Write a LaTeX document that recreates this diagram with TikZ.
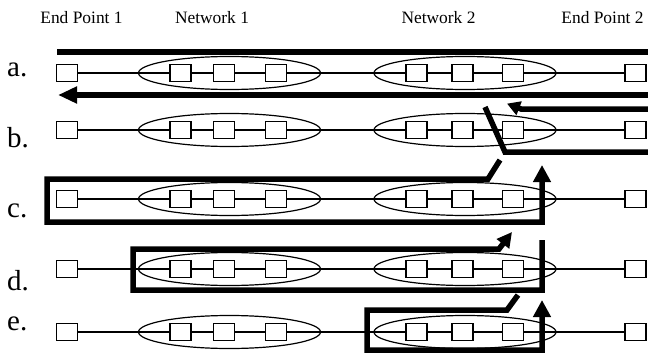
\documentclass[tikz,border=0pt]{standalone}
\usepackage{fontspec}
\setmainfont{Liberation Serif}
\usetikzlibrary{arrows.meta,shapes.geometric}

\begin{document}
\begin{tikzpicture}[x=1pt,y=-1pt,
  hop/.style={draw,line width=1.2pt,fill=white,minimum width=21pt,minimum height=17pt,inner sep=0pt},
  net/.style={draw,ellipse,line width=1.2pt,minimum width=182pt,minimum height=33pt,inner sep=0pt},
  link/.style={line width=1.1pt},
  route/.style={line width=5.5pt},
  tip/.style={-{Triangle[length=17pt,width=17pt]}},
  rowlabel/.style={font=\fontsize{29}{30}\selectfont,anchor=base west,inner sep=0pt},
  header/.style={font=\fontsize{17.4}{18}\selectfont,anchor=base,inner sep=0pt}]
\useasboundingbox (0,0) rectangle (648,353);

\node[header] (hd-ep1) at (81.5,24) {End Point 1};
\node[header] (hd-net1) at (212,24) {Network 1};
\node[header] (hd-net2) at (438.5,24) {Network 2};
\node[header] (hd-ep2) at (602.5,24) {End Point 2};

% the five rows of hops
\foreach \r/\y/\ly in {a/73/77,b/130/147,c/199/217,d/269/290,e/332/330}{
  \node[rowlabel] (lbl-\r) at (7,\ly) {\r.};
  \node[net] (net1-\r) at (229.5,\y) {};
  \node[net] (net2-\r) at (465,\y) {};
  \node[hop] (ep1-\r) at (67,\y) {};
  \node[hop] (ra-\r) at (180.5,\y) {};
  \node[hop] (rb-\r) at (224,\y) {};
  \node[hop] (rc-\r) at (276,\y) {};
  \node[hop] (sa-\r) at (416.5,\y) {};
  \node[hop] (sb-\r) at (462.5,\y) {};
  \node[hop] (sc-\r) at (513,\y) {};
  \node[hop] (ep2-\r) at (635.5,\y) {};
  \draw[link] (ep1-\r) -- (ra-\r) -- (rb-\r) -- (rc-\r) -- (sa-\r) -- (sb-\r) -- (sc-\r) -- (ep2-\r);
}

% a.
\draw[route] (57,52) -- (648,52);
\draw[route,-{Triangle[length=19pt,width=16pt]}] (648,95) -- (58,95);
% b.
\draw[route,-{Triangle[length=13pt,width=14pt]}] (648,109) -- (521,109) -- (507,103.6);
\draw[route] (648,152) -- (505,152) -- (485,107);
% c.
\draw[route,tip] (500,160) -- (488,179) -- (47,179) -- (47,222) -- (542,222) -- (542,165);
% d.
\draw[route,-{Triangle[length=15pt,width=15pt]}] (542,240) -- (542,290) -- (133,290) -- (133,249) -- (499,249) -- (512,232);
% e.
\draw[route,tip] (518,295) -- (507,310) -- (367,310) -- (367,350) -- (542,350) -- (542,300);
\end{tikzpicture}
\end{document}
